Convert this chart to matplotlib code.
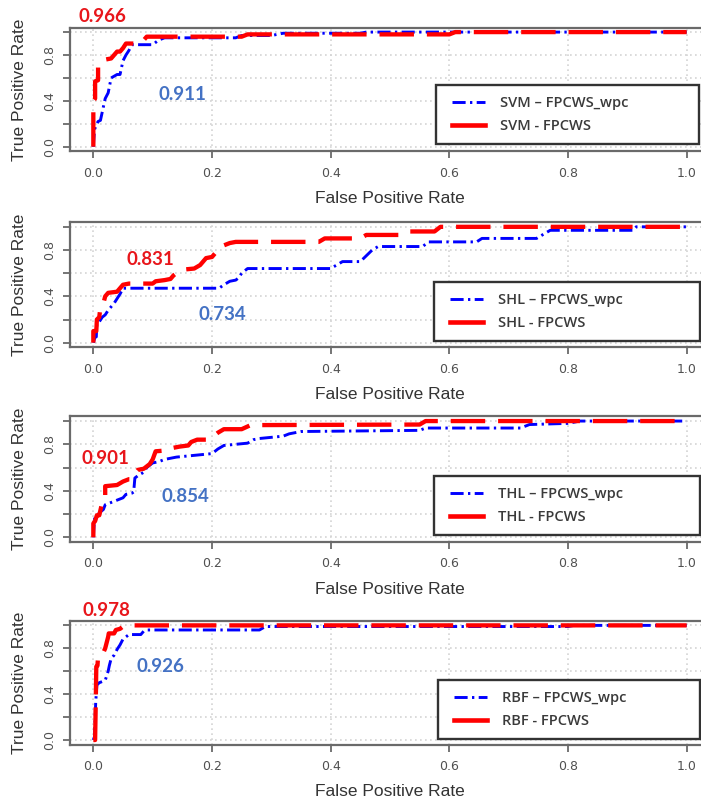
import matplotlib
matplotlib.use('Agg')
import matplotlib.pyplot as plt
from matplotlib.lines import Line2D
from matplotlib.legend_handler import HandlerLine2D

# ---------------- data ----------------
models = ['SVM', 'SHL', 'THL', 'RBF']
auc_fpcws = ['0.966', '0.831', '0.901', '0.978']
auc_wpc = ['0.911', '0.734', '0.854', '0.926']

svm_fpcws_fpr = [0, 0, 0.003, 0.003, 0.008, 0.008, 0.015, 0.02, 0.03, 0.035, 0.04, 0.045, 0.05,
                 0.055, 0.08, 0.085, 0.09, 0.25, 0.26, 0.6, 0.61, 1.0]
svm_fpcws_tpr = [0, 0.4, 0.42, 0.57, 0.58, 0.72, 0.74, 0.76, 0.77, 0.8, 0.83, 0.83, 0.86,
                 0.9, 0.9, 0.93, 0.96, 0.96, 0.98, 0.98, 1.0, 1.0]
svm_wpc_fpr = [0, 0.002, 0.005, 0.008, 0.012, 0.017, 0.02, 0.025, 0.03, 0.04, 0.045, 0.05, 0.055,
               0.06, 0.065, 0.1, 0.11, 0.12, 0.24, 0.25, 0.3, 0.32, 0.45, 0.46, 1.0]
svm_wpc_tpr = [0, 0.15, 0.19, 0.22, 0.23, 0.35, 0.42, 0.47, 0.6, 0.63, 0.63, 0.75, 0.8,
               0.84, 0.89, 0.89, 0.93, 0.95, 0.95, 0.97, 0.97, 0.99, 0.99, 1.0, 1.0]

shl_fpcws_fpr = [0, 0, 0.005, 0.006, 0.01, 0.012, 0.017, 0.02, 0.025, 0.04, 0.045, 0.05, 0.06, 0.1,
                 0.105, 0.12, 0.13, 0.135, 0.14, 0.15, 0.17, 0.18, 0.185, 0.19, 0.2, 0.205, 0.21,
                 0.22, 0.23, 0.24, 0.38, 0.39, 0.45, 0.46, 0.52, 0.53, 0.575, 0.585, 1.0]
shl_fpcws_tpr = [0, 0.1, 0.1, 0.2, 0.22, 0.31, 0.34, 0.4, 0.43, 0.44, 0.47, 0.5, 0.51, 0.51,
                 0.53, 0.54, 0.55, 0.58, 0.6, 0.63, 0.64, 0.67, 0.7, 0.73, 0.74, 0.77, 0.81,
                 0.84, 0.86, 0.87, 0.87, 0.9, 0.9, 0.93, 0.93, 0.96, 0.96, 1.0, 1.0]
shl_wpc_fpr = [0, 0.003, 0.005, 0.006, 0.01, 0.015, 0.02, 0.025, 0.03, 0.035, 0.04, 0.045, 0.05,
               0.212, 0.22, 0.23, 0.24, 0.245, 0.25, 0.26, 0.4, 0.41, 0.42, 0.45, 0.46, 0.47, 0.48,
               0.555, 0.565, 0.646, 0.655, 0.747, 0.76, 0.77, 0.91, 0.915, 1.0]
shl_wpc_tpr = [0, 0.05, 0.05, 0.17, 0.18, 0.22, 0.24, 0.28, 0.31, 0.34, 0.38, 0.42, 0.47,
               0.47, 0.5, 0.53, 0.54, 0.56, 0.6, 0.64, 0.64, 0.67, 0.7, 0.7, 0.75, 0.8, 0.83,
               0.83, 0.87, 0.87, 0.9, 0.9, 0.94, 0.97, 0.97, 1.0, 1.0]

thl_fpcws_fpr = [0, 0, 0.003, 0.006, 0.01, 0.015, 0.02, 0.02, 0.04, 0.05, 0.06, 0.065, 0.07, 0.075,
                 0.085, 0.095, 0.1, 0.105, 0.13, 0.135, 0.145, 0.16, 0.165, 0.175, 0.19, 0.2, 0.21,
                 0.22, 0.25, 0.265, 0.55, 0.56, 1.0]
thl_fpcws_tpr = [0, 0.12, 0.14, 0.19, 0.19, 0.3, 0.32, 0.44, 0.45, 0.48, 0.5, 0.5, 0.55, 0.58,
                 0.59, 0.63, 0.67, 0.74, 0.75, 0.77, 0.78, 0.79, 0.82, 0.84, 0.84, 0.86, 0.9,
                 0.93, 0.93, 0.965, 0.97, 1.0, 1.0]
thl_wpc_fpr = [0, 0.002, 0.006, 0.01, 0.017, 0.02, 0.03, 0.04, 0.05, 0.055, 0.065, 0.068, 0.07,
               0.075, 0.085, 0.09, 0.095, 0.1, 0.11, 0.12, 0.13, 0.14, 0.16, 0.2, 0.21, 0.22, 0.26,
               0.27, 0.28, 0.3, 0.32, 0.33, 0.35, 0.55, 0.56, 0.72, 0.735, 0.8, 0.82, 1.0]
thl_wpc_tpr = [0, 0.16, 0.18, 0.21, 0.24, 0.28, 0.3, 0.32, 0.34, 0.37, 0.38, 0.39, 0.51,
               0.53, 0.56, 0.6, 0.62, 0.64, 0.65, 0.67, 0.68, 0.69, 0.7, 0.72, 0.76, 0.79, 0.81,
               0.84, 0.85, 0.86, 0.87, 0.89, 0.91, 0.92, 0.94, 0.94, 0.97, 0.98, 1.0, 1.0]

rbf_fpcws_fpr = [0, 0.003, 0.004, 0.005, 0.007, 0.008, 0.015, 0.02, 0.022, 0.025, 0.026, 0.035,
                 0.038, 0.045, 0.05, 0.06, 1.0]
rbf_fpcws_tpr = [0, 0.0, 0.3, 0.64, 0.65, 0.73, 0.74, 0.8, 0.84, 0.9, 0.93, 0.93,
                 0.96, 0.97, 0.99, 1.0, 1.0]
rbf_wpc_fpr = [0, 0.002, 0.004, 0.006, 0.01, 0.02, 0.025, 0.027, 0.03, 0.035, 0.04, 0.045, 0.048,
               0.05, 0.055, 0.06, 0.08, 0.085, 0.09, 0.28, 0.29, 0.8, 0.81, 1.0]
rbf_wpc_tpr = [0, 0.03, 0.33, 0.48, 0.5, 0.52, 0.6, 0.65, 0.71, 0.74, 0.79, 0.83, 0.86,
               0.88, 0.9, 0.92, 0.92, 0.95, 0.96, 0.96, 0.99, 0.99, 1.0, 1.0]

fpcws_curves = [(svm_fpcws_fpr, svm_fpcws_tpr), (shl_fpcws_fpr, shl_fpcws_tpr),
                (thl_fpcws_fpr, thl_fpcws_tpr), (rbf_fpcws_fpr, rbf_fpcws_tpr)]
wpc_curves = [(svm_wpc_fpr, svm_wpc_tpr), (shl_wpc_fpr, shl_wpc_tpr),
              (thl_wpc_fpr, thl_wpc_tpr), (rbf_wpc_fpr, rbf_wpc_tpr)]

x_ticks = [0.0, 0.2, 0.4, 0.6, 0.8, 1.0]
x_tick_labels = ['0.0', '0.2', '0.4', '0.6', '0.8', '1.0']
y_ticks = [0.0, 0.2, 0.4, 0.6, 0.8, 1.0]
y_tick_labels = ['0.0', '', '0.4', '', '0.8', '']

# ---------------- layout (pixels) ----------------
W, H = 701, 802
fig = plt.figure(figsize=(W / 100, H / 100), dpi=100)

box_left = 69.6
box_width = 640.8
box_tops = [27.5, 222.2, 416.4, 620.8]
box_bottoms = [151.3, 347.3, 542.0, 744.6]
legend_boxes = [(436, 85, 147.3), (434, 282, 344), (434, 476, 537.5), (438, 680, 741)]
legend_right = 699.5
red_txt_pos = [(102.5, 16.5), (150.5, 259.5), (105.5, 458.5), (106, 611)]
blue_txt_pos = [(182.5, 94.5), (222, 315), (185.5, 496.5), (160.5, 667)]

RED = '#ff0000'
BLUE = '#0000ff'
AX_GREY = '#6a6a6a'
leg_fs = 10.5


def fx(px):
    return px / W


def fy(py):
    return 1 - py / H


for i, m in enumerate(models):
    top, bot = box_tops[i], box_bottoms[i]
    ax = fig.add_axes([fx(box_left), fy(bot), box_width / W, (bot - top) / H])
    ax.set_xlim(-0.04, 1.04)
    ax.set_ylim(-0.04, 1.04)
    ax.set_axisbelow(True)
    ax.grid(True, color='#d4d4d4', linestyle=(0, (1, 2)), linewidth=1.2)

    wx, wy = wpc_curves[i]
    rx, ry = fpcws_curves[i]
    ax.plot(wx, wy, color=BLUE, lw=2.1, linestyle=(0, (4.5, 1.5, 0.8, 1.5)),
            solid_capstyle='butt', dash_capstyle='butt')
    ax.plot(rx, ry, color=RED, lw=3.1, linestyle=(0, (8, 3)),
            dash_capstyle='butt')

    ax.set_xticks(x_ticks)
    ax.set_xticklabels(x_tick_labels)
    ax.set_yticks(y_ticks)
    ax.set_yticklabels(y_tick_labels, rotation=90, va='center')
    ax.tick_params(axis='both', direction='out', length=5, width=1.3, color=AX_GREY,
                   labelsize=9, labelcolor='#505050')
    ax.tick_params(axis='x', pad=6)
    ax.tick_params(axis='y', pad=5)
    for s in ax.spines.values():
        s.set_color(AX_GREY)
        s.set_linewidth(1.6)

    # axis titles
    fig.text(fx(box_left + box_width * (0.54 / 1.08)), fy(bot + 47), 'False Positive Rate',
             ha='center', va='center', fontsize=12.5, color='#333333',
             family='Liberation Sans')
    fig.text(fx(20), fy((top + bot) / 2), 'True Positive Rate', rotation=90,
             ha='center', va='center', fontsize=12.5, color='#333333',
             family='Liberation Sans')

    # AUC annotations
    fig.text(fx(red_txt_pos[i][0]), fy(red_txt_pos[i][1]), auc_fpcws[i], color='#e8161b',
             fontsize=13.5, fontweight='bold', family='Lato', ha='center', va='center')
    fig.text(fx(blue_txt_pos[i][0]), fy(blue_txt_pos[i][1]), auc_wpc[i], color='#4472c4',
             fontsize=13.5, fontweight='bold', family='Lato', ha='center', va='center')

    # legend
    lx, ltop, lbot = legend_boxes[i]
    handles = [Line2D([], [], color=BLUE, lw=2.1, linestyle=(0, (4.5, 1.5, 0.8, 1.5))),
               Line2D([], [], color=RED, lw=3.3)]
    labels = [f'{m} \u2013 FPCWS_wpc', f'{m} - FPCWS']
    fs_px = leg_fs * 100 / 72
    leg = ax.legend(handles, labels, loc='upper left',
                    bbox_to_anchor=(fx(lx), fy(lbot), (legend_right - lx) / W, (lbot - ltop) / H),
                    bbox_transform=fig.transFigure, mode='expand', borderaxespad=0,
                    fancybox=False, framealpha=1, edgecolor='#333333',
                    handlelength=38 / fs_px, handletextpad=15 / fs_px,
                    borderpad=0.74, labelspacing=0.62,
                    handler_map={Line2D: HandlerLine2D(xpad=5 / fs_px)},
                    prop={'family': 'Open Sans', 'size': leg_fs, 'weight': 'semibold'})
    leg.get_frame().set_linewidth(1.7)
    for t in leg.get_texts():
        t.set_color('#3a3a3a')

fig.savefig('out.png', dpi=100)
